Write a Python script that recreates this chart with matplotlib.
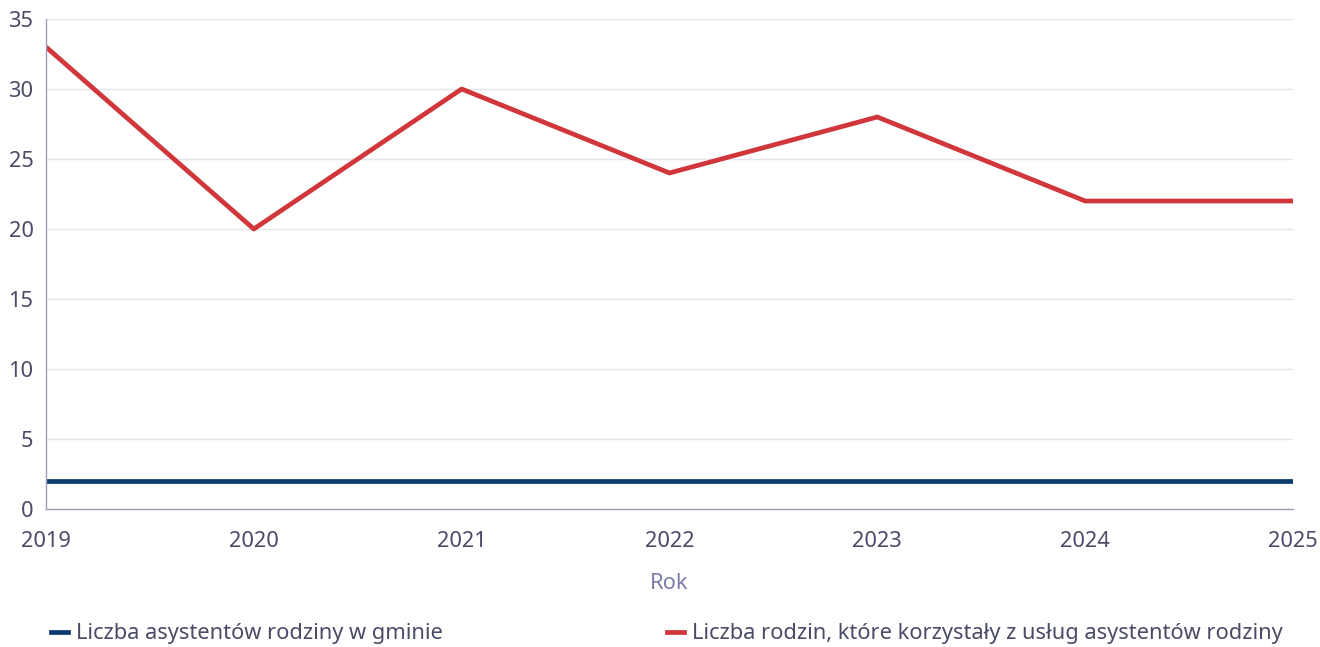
import matplotlib.pyplot as plt
import matplotlib.lines as mlines

years = [2019, 2020, 2021, 2022, 2023, 2024, 2025]
asystenci = [2, 2, 2, 2, 2, 2, 2]
rodziny = [33, 20, 30, 24, 28, 22, 22]

label_asyst = "Liczba asystentów rodziny w gminie"
label_rodz = "Liczba rodzin, które korzystały z usług asystentów rodziny"

navy = "#0d3a6e"
red = "#d0363a"
text_c = "#4a4b66"
axis_c = "#a09db8"
grid_c = "#e4e4ec"

plt.rcParams['font.family'] = ['Noto Sans', 'DejaVu Sans']

fig = plt.figure(figsize=(13.2, 6.47), dpi=100)
ax = fig.add_axes([46 / 1320, 1 - 509 / 647, (1293 - 46) / 1320, (509 - 19) / 647])

ax.plot(years, asystenci, color=navy, lw=3.4, solid_capstyle="butt")
ax.plot(years, rodziny, color=red, lw=3.4, solid_capstyle="butt")

ax.set_xlim(2019, 2025)
ax.set_ylim(0, 35)
ax.set_yticks(range(0, 36, 5))
ax.set_xticks(years)
ax.grid(axis="y", color=grid_c, lw=1)
ax.set_axisbelow(True)
for s in ["top", "right"]:
    ax.spines[s].set_visible(False)
for s in ["left", "bottom"]:
    ax.spines[s].set_color(axis_c)
    ax.spines[s].set_linewidth(1)
ax.tick_params(length=0, labelsize=15.7, colors=text_c)
ax.tick_params(axis="y", pad=9)
ax.tick_params(axis="x", pad=16)
ax.set_xlabel("Rok", fontsize=15.7, color="#7b7ba8", labelpad=15)

h1 = mlines.Line2D([], [], color=navy, lw=3.4)
h2 = mlines.Line2D([], [], color=red, lw=3.4)
leg_kw = dict(frameon=False, fontsize=15.7, handlelength=0.8, handletextpad=0.35,
              labelcolor=text_c, loc="center left")
fig.legend([h1], [label_asyst], bbox_to_anchor=(31 / 1320, 1 - 634 / 647), **leg_kw)
fig.legend([h2], [label_rodz], bbox_to_anchor=(647 / 1320, 1 - 634 / 647), **leg_kw)

fig.savefig("out.png", dpi=100)
